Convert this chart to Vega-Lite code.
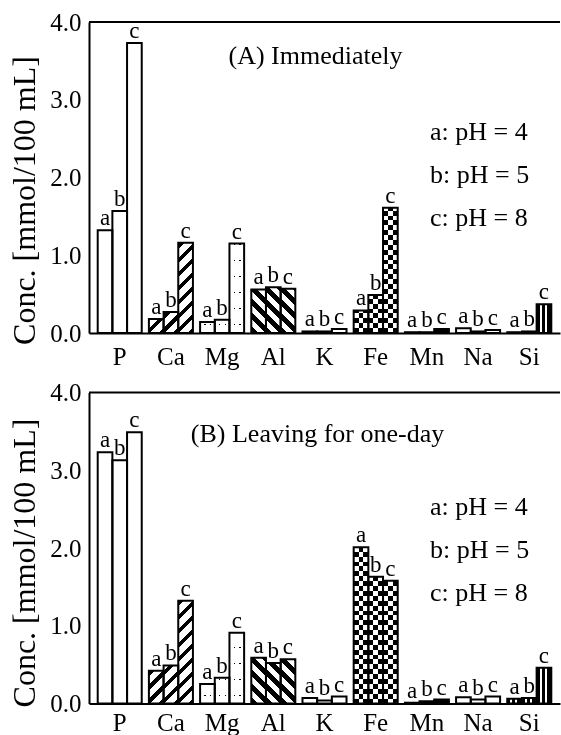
{
  "$schema": "https://vega.github.io/schema/vega-lite/v6.json",
  "background": "white",
  "padding": {"left": 8, "top": 10, "right": 0, "bottom": 0},
  "params": [
    {"name": "pxPerUnit", "value": 77.75},
    {"name": "barW", "value": 14.68},
    {"name": "hatchSpan", "value": 168},
    {"name": "checkSpan", "value": 176.2},
    {"name": "dotSpan", "value": 128},
    {"name": "hatchSlash", "value": [
      {"offset": 0, "color": "black"}, {"offset": 0.031667, "color": "black"}, {"offset": 0.031667, "color": "white"}, {"offset": 0.083333, "color": "white"},
      {"offset": 0.083333, "color": "black"}, {"offset": 0.115, "color": "black"}, {"offset": 0.115, "color": "white"}, {"offset": 0.166667, "color": "white"},
      {"offset": 0.166667, "color": "black"}, {"offset": 0.198333, "color": "black"}, {"offset": 0.198333, "color": "white"}, {"offset": 0.25, "color": "white"},
      {"offset": 0.25, "color": "black"}, {"offset": 0.281667, "color": "black"}, {"offset": 0.281667, "color": "white"}, {"offset": 0.333333, "color": "white"},
      {"offset": 0.333333, "color": "black"}, {"offset": 0.365, "color": "black"}, {"offset": 0.365, "color": "white"}, {"offset": 0.416667, "color": "white"},
      {"offset": 0.416667, "color": "black"}, {"offset": 0.448333, "color": "black"}, {"offset": 0.448333, "color": "white"}, {"offset": 0.5, "color": "white"},
      {"offset": 0.5, "color": "black"}, {"offset": 0.531667, "color": "black"}, {"offset": 0.531667, "color": "white"}, {"offset": 0.583333, "color": "white"},
      {"offset": 0.583333, "color": "black"}, {"offset": 0.615, "color": "black"}, {"offset": 0.615, "color": "white"}, {"offset": 0.666667, "color": "white"},
      {"offset": 0.666667, "color": "black"}, {"offset": 0.698333, "color": "black"}, {"offset": 0.698333, "color": "white"}, {"offset": 0.75, "color": "white"},
      {"offset": 0.75, "color": "black"}, {"offset": 0.781667, "color": "black"}, {"offset": 0.781667, "color": "white"}, {"offset": 0.833333, "color": "white"},
      {"offset": 0.833333, "color": "black"}, {"offset": 0.865, "color": "black"}, {"offset": 0.865, "color": "white"}, {"offset": 0.916667, "color": "white"},
      {"offset": 0.916667, "color": "black"}, {"offset": 0.948333, "color": "black"}, {"offset": 0.948333, "color": "white"}, {"offset": 1, "color": "white"}
    ]},
    {"name": "hatchBack", "value": [
      {"offset": 0, "color": "black"}, {"offset": 0.041667, "color": "black"}, {"offset": 0.041667, "color": "white"}, {"offset": 0.083333, "color": "white"},
      {"offset": 0.083333, "color": "black"}, {"offset": 0.125, "color": "black"}, {"offset": 0.125, "color": "white"}, {"offset": 0.166667, "color": "white"},
      {"offset": 0.166667, "color": "black"}, {"offset": 0.208333, "color": "black"}, {"offset": 0.208333, "color": "white"}, {"offset": 0.25, "color": "white"},
      {"offset": 0.25, "color": "black"}, {"offset": 0.291667, "color": "black"}, {"offset": 0.291667, "color": "white"}, {"offset": 0.333333, "color": "white"},
      {"offset": 0.333333, "color": "black"}, {"offset": 0.375, "color": "black"}, {"offset": 0.375, "color": "white"}, {"offset": 0.416667, "color": "white"},
      {"offset": 0.416667, "color": "black"}, {"offset": 0.458333, "color": "black"}, {"offset": 0.458333, "color": "white"}, {"offset": 0.5, "color": "white"},
      {"offset": 0.5, "color": "black"}, {"offset": 0.541667, "color": "black"}, {"offset": 0.541667, "color": "white"}, {"offset": 0.583333, "color": "white"},
      {"offset": 0.583333, "color": "black"}, {"offset": 0.625, "color": "black"}, {"offset": 0.625, "color": "white"}, {"offset": 0.666667, "color": "white"},
      {"offset": 0.666667, "color": "black"}, {"offset": 0.708333, "color": "black"}, {"offset": 0.708333, "color": "white"}, {"offset": 0.75, "color": "white"},
      {"offset": 0.75, "color": "black"}, {"offset": 0.791667, "color": "black"}, {"offset": 0.791667, "color": "white"}, {"offset": 0.833333, "color": "white"},
      {"offset": 0.833333, "color": "black"}, {"offset": 0.875, "color": "black"}, {"offset": 0.875, "color": "white"}, {"offset": 0.916667, "color": "white"},
      {"offset": 0.916667, "color": "black"}, {"offset": 0.958333, "color": "black"}, {"offset": 0.958333, "color": "white"}, {"offset": 1, "color": "white"}
    ]},
    {"name": "checkRows", "value": [
      {"offset": 0, "color": "black"}, {"offset": 0.02778, "color": "black"}, {"offset": 0.02778, "color": "white"}, {"offset": 0.05556, "color": "white"},
      {"offset": 0.05556, "color": "black"}, {"offset": 0.08333, "color": "black"}, {"offset": 0.08333, "color": "white"}, {"offset": 0.11111, "color": "white"},
      {"offset": 0.11111, "color": "black"}, {"offset": 0.13889, "color": "black"}, {"offset": 0.13889, "color": "white"}, {"offset": 0.16667, "color": "white"},
      {"offset": 0.16667, "color": "black"}, {"offset": 0.19444, "color": "black"}, {"offset": 0.19444, "color": "white"}, {"offset": 0.22222, "color": "white"},
      {"offset": 0.22222, "color": "black"}, {"offset": 0.25, "color": "black"}, {"offset": 0.25, "color": "white"}, {"offset": 0.27778, "color": "white"},
      {"offset": 0.27778, "color": "black"}, {"offset": 0.30556, "color": "black"}, {"offset": 0.30556, "color": "white"}, {"offset": 0.33333, "color": "white"},
      {"offset": 0.33333, "color": "black"}, {"offset": 0.36111, "color": "black"}, {"offset": 0.36111, "color": "white"}, {"offset": 0.38889, "color": "white"},
      {"offset": 0.38889, "color": "black"}, {"offset": 0.41667, "color": "black"}, {"offset": 0.41667, "color": "white"}, {"offset": 0.44444, "color": "white"},
      {"offset": 0.44444, "color": "black"}, {"offset": 0.47222, "color": "black"}, {"offset": 0.47222, "color": "white"}, {"offset": 0.5, "color": "white"},
      {"offset": 0.5, "color": "black"}, {"offset": 0.52778, "color": "black"}, {"offset": 0.52778, "color": "white"}, {"offset": 0.55556, "color": "white"},
      {"offset": 0.55556, "color": "black"}, {"offset": 0.58333, "color": "black"}, {"offset": 0.58333, "color": "white"}, {"offset": 0.61111, "color": "white"},
      {"offset": 0.61111, "color": "black"}, {"offset": 0.63889, "color": "black"}, {"offset": 0.63889, "color": "white"}, {"offset": 0.66667, "color": "white"},
      {"offset": 0.66667, "color": "black"}, {"offset": 0.69444, "color": "black"}, {"offset": 0.69444, "color": "white"}, {"offset": 0.72222, "color": "white"},
      {"offset": 0.72222, "color": "black"}, {"offset": 0.75, "color": "black"}, {"offset": 0.75, "color": "white"}, {"offset": 0.77778, "color": "white"},
      {"offset": 0.77778, "color": "black"}, {"offset": 0.80556, "color": "black"}, {"offset": 0.80556, "color": "white"}, {"offset": 0.83333, "color": "white"},
      {"offset": 0.83333, "color": "black"}, {"offset": 0.86111, "color": "black"}, {"offset": 0.86111, "color": "white"}, {"offset": 0.88889, "color": "white"},
      {"offset": 0.88889, "color": "black"}, {"offset": 0.91667, "color": "black"}, {"offset": 0.91667, "color": "white"}, {"offset": 0.94444, "color": "white"},
      {"offset": 0.94444, "color": "black"}, {"offset": 0.97222, "color": "black"}, {"offset": 0.97222, "color": "white"}, {"offset": 1, "color": "white"}
    ]},
    {"name": "dotRows", "value": [
      {"offset": 0, "color": "white"}, {"offset": 0.05875, "color": "white"}, {"offset": 0.05875, "color": "black"}, {"offset": 0.06875, "color": "black"}, {"offset": 0.06875, "color": "white"},
      {"offset": 0.18375, "color": "white"}, {"offset": 0.18375, "color": "black"}, {"offset": 0.19375, "color": "black"}, {"offset": 0.19375, "color": "white"},
      {"offset": 0.30875, "color": "white"}, {"offset": 0.30875, "color": "black"}, {"offset": 0.31875, "color": "black"}, {"offset": 0.31875, "color": "white"},
      {"offset": 0.43375, "color": "white"}, {"offset": 0.43375, "color": "black"}, {"offset": 0.44375, "color": "black"}, {"offset": 0.44375, "color": "white"},
      {"offset": 0.55875, "color": "white"}, {"offset": 0.55875, "color": "black"}, {"offset": 0.56875, "color": "black"}, {"offset": 0.56875, "color": "white"},
      {"offset": 0.68375, "color": "white"}, {"offset": 0.68375, "color": "black"}, {"offset": 0.69375, "color": "black"}, {"offset": 0.69375, "color": "white"},
      {"offset": 0.80875, "color": "white"}, {"offset": 0.80875, "color": "black"}, {"offset": 0.81875, "color": "black"}, {"offset": 0.81875, "color": "white"},
      {"offset": 0.93375, "color": "white"}, {"offset": 0.93375, "color": "black"}, {"offset": 0.94375, "color": "black"}, {"offset": 0.94375, "color": "white"}, {"offset": 1, "color": "white"}
    ]}
  ],
  "data": {"values": [
    {"panel": "A", "element": "P", "tag": "a", "pH": 4, "conc": 1.32},
    {"panel": "A", "element": "P", "tag": "b", "pH": 5, "conc": 1.57},
    {"panel": "A", "element": "P", "tag": "c", "pH": 8, "conc": 3.73},
    {"panel": "A", "element": "Ca", "tag": "a", "pH": 4, "conc": 0.18},
    {"panel": "A", "element": "Ca", "tag": "b", "pH": 5, "conc": 0.27},
    {"panel": "A", "element": "Ca", "tag": "c", "pH": 8, "conc": 1.16},
    {"panel": "A", "element": "Mg", "tag": "a", "pH": 4, "conc": 0.14},
    {"panel": "A", "element": "Mg", "tag": "b", "pH": 5, "conc": 0.17},
    {"panel": "A", "element": "Mg", "tag": "c", "pH": 8, "conc": 1.15},
    {"panel": "A", "element": "Al", "tag": "a", "pH": 4, "conc": 0.56},
    {"panel": "A", "element": "Al", "tag": "b", "pH": 5, "conc": 0.59},
    {"panel": "A", "element": "Al", "tag": "c", "pH": 8, "conc": 0.57},
    {"panel": "A", "element": "K", "tag": "a", "pH": 4, "conc": 0.02},
    {"panel": "A", "element": "K", "tag": "b", "pH": 5, "conc": 0.02},
    {"panel": "A", "element": "K", "tag": "c", "pH": 8, "conc": 0.05},
    {"panel": "A", "element": "Fe", "tag": "a", "pH": 4, "conc": 0.29},
    {"panel": "A", "element": "Fe", "tag": "b", "pH": 5, "conc": 0.49},
    {"panel": "A", "element": "Fe", "tag": "c", "pH": 8, "conc": 1.61},
    {"panel": "A", "element": "Mn", "tag": "a", "pH": 4, "conc": 0.01},
    {"panel": "A", "element": "Mn", "tag": "b", "pH": 5, "conc": 0.01},
    {"panel": "A", "element": "Mn", "tag": "c", "pH": 8, "conc": 0.05},
    {"panel": "A", "element": "Na", "tag": "a", "pH": 4, "conc": 0.06},
    {"panel": "A", "element": "Na", "tag": "b", "pH": 5, "conc": 0.02},
    {"panel": "A", "element": "Na", "tag": "c", "pH": 8, "conc": 0.04},
    {"panel": "A", "element": "Si", "tag": "a", "pH": 4, "conc": 0.01},
    {"panel": "A", "element": "Si", "tag": "b", "pH": 5, "conc": 0.02},
    {"panel": "A", "element": "Si", "tag": "c", "pH": 8, "conc": 0.37},
    {"panel": "B", "element": "P", "tag": "a", "pH": 4, "conc": 3.23},
    {"panel": "B", "element": "P", "tag": "b", "pH": 5, "conc": 3.13},
    {"panel": "B", "element": "P", "tag": "c", "pH": 8, "conc": 3.49},
    {"panel": "B", "element": "Ca", "tag": "a", "pH": 4, "conc": 0.42},
    {"panel": "B", "element": "Ca", "tag": "b", "pH": 5, "conc": 0.49},
    {"panel": "B", "element": "Ca", "tag": "c", "pH": 8, "conc": 1.32},
    {"panel": "B", "element": "Mg", "tag": "a", "pH": 4, "conc": 0.25},
    {"panel": "B", "element": "Mg", "tag": "b", "pH": 5, "conc": 0.33},
    {"panel": "B", "element": "Mg", "tag": "c", "pH": 8, "conc": 0.91},
    {"panel": "B", "element": "Al", "tag": "a", "pH": 4, "conc": 0.59},
    {"panel": "B", "element": "Al", "tag": "b", "pH": 5, "conc": 0.52},
    {"panel": "B", "element": "Al", "tag": "c", "pH": 8, "conc": 0.57},
    {"panel": "B", "element": "K", "tag": "a", "pH": 4, "conc": 0.07},
    {"panel": "B", "element": "K", "tag": "b", "pH": 5, "conc": 0.04},
    {"panel": "B", "element": "K", "tag": "c", "pH": 8, "conc": 0.09},
    {"panel": "B", "element": "Fe", "tag": "a", "pH": 4, "conc": 2.01},
    {"panel": "B", "element": "Fe", "tag": "b", "pH": 5, "conc": 1.63},
    {"panel": "B", "element": "Fe", "tag": "c", "pH": 8, "conc": 1.58},
    {"panel": "B", "element": "Mn", "tag": "a", "pH": 4, "conc": 0.01},
    {"panel": "B", "element": "Mn", "tag": "b", "pH": 5, "conc": 0.03},
    {"panel": "B", "element": "Mn", "tag": "c", "pH": 8, "conc": 0.05},
    {"panel": "B", "element": "Na", "tag": "a", "pH": 4, "conc": 0.08},
    {"panel": "B", "element": "Na", "tag": "b", "pH": 5, "conc": 0.05},
    {"panel": "B", "element": "Na", "tag": "c", "pH": 8, "conc": 0.09},
    {"panel": "B", "element": "Si", "tag": "a", "pH": 4, "conc": 0.06},
    {"panel": "B", "element": "Si", "tag": "b", "pH": 5, "conc": 0.07},
    {"panel": "B", "element": "Si", "tag": "c", "pH": 8, "conc": 0.46}
  ]},
  "spacing": 11.5,
  "resolve": {"scale": {"opacity": "independent"}, "legend": {"opacity": "independent"}},
  "vconcat": [
    {
      "width": 471,
      "height": 311,
      "title": {"text": "(A) Immediately", "offset": -72, "dx": -9, "baseline": "middle"},
      "layer": [
        {
          "data": {"values": [{}]},
          "mark": {"type": "rule", "color": "black", "strokeWidth": 2},
          "encoding": {"y": {"datum": 4, "type": "quantitative", "title": "Conc. [mmol/100 mL]"}}
        },
        {
          "transform": [{"filter": "datum.panel === 'A'"}],
          "encoding": {
            "x": {"field": "element", "type": "nominal", "sort": ["P", "Ca", "Mg", "Al", "K", "Fe", "Mn", "Na", "Si"], "scale": {"paddingInner": 0.14, "paddingOuter": 0.17}, "axis": {"title": null}},
            "xOffset": {"field": "tag", "type": "nominal", "scale": {"paddingInner": 0, "paddingOuter": 0}},
            "y": {"field": "conc", "type": "quantitative", "scale": {"domain": [0, 4]}, "axis": {"title": "Conc. [mmol/100 mL]", "values": [0, 1, 2, 3, 4], "format": ".1f", "titleX": -65, "titleY": 178}}
          },
          "layer": [
            {"transform": [{"filter": {"field": "element", "oneOf": ["P", "K", "Na"]}}], "mark": {"type": "bar", "fill": "white"}},
            {"transform": [{"filter": "datum.element === 'Mg'"}], "mark": {"type": "bar", "fill": {"gradient": "linear", "x1": 0, "y1": 0, "x2": 1, "y2": 0, "stops": [{"offset": 0, "color": "white"}, {"offset": 0.3, "color": "white"}, {"offset": 0.3, "color": "black"}, {"offset": 0.38, "color": "black"}, {"offset": 0.38, "color": "white"}, {"offset": 0.68, "color": "white"}, {"offset": 0.68, "color": "black"}, {"offset": 0.76, "color": "black"}, {"offset": 0.76, "color": "white"}, {"offset": 1, "color": "white"}]}}},
            {"transform": [{"filter": "datum.element === 'Mg'"}], "mark": {"type": "bar", "blend": "lighten", "fill": {"expr": "{gradient: 'linear', x1: 0, y1: 1, x2: 0, y2: 1 - dotSpan / (datum.conc * pxPerUnit), stops: dotRows}"}}},
            {"transform": [{"filter": "datum.element === 'Ca'"}], "mark": {"type": "bar", "fill": {"expr": "{gradient: 'linear', x1: 1, y1: 1, x2: 1 - hatchSpan * barW / (barW * barW + pow(datum.conc * pxPerUnit, 2)), y2: 1 - hatchSpan * datum.conc * pxPerUnit / (barW * barW + pow(datum.conc * pxPerUnit, 2)), stops: hatchSlash}"}}},
            {"transform": [{"filter": "datum.element === 'Al'"}], "mark": {"type": "bar", "fill": {"expr": "{gradient: 'linear', x1: 0, y1: 1, x2: hatchSpan * barW / (barW * barW + pow(datum.conc * pxPerUnit, 2)), y2: 1 - hatchSpan * datum.conc * pxPerUnit / (barW * barW + pow(datum.conc * pxPerUnit, 2)), stops: hatchBack}"}}},
            {"transform": [{"filter": "datum.element === 'Fe'"}], "mark": {"type": "bar", "fill": {"gradient": "linear", "x1": 0, "y1": 0, "x2": 1, "y2": 0, "stops": [{"offset": 0, "color": "black"}, {"offset": 0.3333, "color": "black"}, {"offset": 0.3333, "color": "white"}, {"offset": 0.6667, "color": "white"}, {"offset": 0.6667, "color": "black"}, {"offset": 1, "color": "black"}]}}},
            {"transform": [{"filter": "datum.element === 'Fe'"}], "mark": {"type": "bar", "blend": "difference", "fill": {"expr": "{gradient: 'linear', x1: 0, y1: 1, x2: 0, y2: 1 - checkSpan / (datum.conc * pxPerUnit), stops: checkRows}"}}},
            {"transform": [{"filter": "datum.element === 'Mn'"}], "mark": {"type": "bar", "fill": "black"}},
            {"transform": [{"filter": "datum.element === 'Si'"}], "mark": {"type": "bar", "fill": {"gradient": "linear", "x1": 0, "y1": 0, "x2": 1, "y2": 0, "stops": [{"offset": 0, "color": "black"}, {"offset": 0.2, "color": "black"}, {"offset": 0.2, "color": "white"}, {"offset": 0.35, "color": "white"}, {"offset": 0.35, "color": "black"}, {"offset": 0.55, "color": "black"}, {"offset": 0.55, "color": "white"}, {"offset": 0.69, "color": "white"}, {"offset": 0.69, "color": "black"}, {"offset": 1, "color": "black"}]}}},
            {"mark": {"type": "bar", "fill": "white", "fillOpacity": 0, "stroke": "black", "strokeWidth": 2}},
            {
              "mark": {"type": "text", "baseline": "alphabetic", "dy": -5, "fontSize": 23},
              "encoding": {
                "text": {"field": "tag"},
                "opacity": {"field": "pH", "type": "ordinal", "scale": {"range": [1, 1, 1]}, "legend": {"orient": "none", "legendX": 315, "legendY": 97, "title": null, "symbolSize": 0, "symbolOpacity": 0, "symbolStrokeWidth": 0, "labelFontSize": 26, "labelOffset": 0, "rowPadding": 17, "labelExpr": "{'4': 'a', '5': 'b', '8': 'c'}[datum.label] + ': pH = ' + datum.label"}}
              }
            }
          ]
        }
      ]
    },
    {
      "width": 471,
      "height": 311,
      "title": {"text": "(B) Leaving for one-day", "offset": -79, "dx": -7, "baseline": "middle"},
      "layer": [
        {
          "data": {"values": [{}]},
          "mark": {"type": "rule", "color": "black", "strokeWidth": 2},
          "encoding": {"y": {"datum": 4, "type": "quantitative", "title": "Conc. [mmol/100 mL]"}}
        },
        {
          "transform": [{"filter": "datum.panel === 'B'"}],
          "encoding": {
            "x": {"field": "element", "type": "nominal", "sort": ["P", "Ca", "Mg", "Al", "K", "Fe", "Mn", "Na", "Si"], "scale": {"paddingInner": 0.14, "paddingOuter": 0.17}, "axis": {"title": null, "labelPadding": 7}},
            "xOffset": {"field": "tag", "type": "nominal", "scale": {"paddingInner": 0, "paddingOuter": 0}},
            "y": {"field": "conc", "type": "quantitative", "scale": {"domain": [0, 4]}, "axis": {"title": "Conc. [mmol/100 mL]", "values": [0, 1, 2, 3, 4], "format": ".1f", "titleX": -65, "titleY": 170}}
          },
          "layer": [
            {"transform": [{"filter": {"field": "element", "oneOf": ["P", "K", "Na"]}}], "mark": {"type": "bar", "fill": "white"}},
            {"transform": [{"filter": "datum.element === 'Mg'"}], "mark": {"type": "bar", "fill": {"gradient": "linear", "x1": 0, "y1": 0, "x2": 1, "y2": 0, "stops": [{"offset": 0, "color": "white"}, {"offset": 0.3, "color": "white"}, {"offset": 0.3, "color": "black"}, {"offset": 0.38, "color": "black"}, {"offset": 0.38, "color": "white"}, {"offset": 0.68, "color": "white"}, {"offset": 0.68, "color": "black"}, {"offset": 0.76, "color": "black"}, {"offset": 0.76, "color": "white"}, {"offset": 1, "color": "white"}]}}},
            {"transform": [{"filter": "datum.element === 'Mg'"}], "mark": {"type": "bar", "blend": "lighten", "fill": {"expr": "{gradient: 'linear', x1: 0, y1: 1, x2: 0, y2: 1 - dotSpan / (datum.conc * pxPerUnit), stops: dotRows}"}}},
            {"transform": [{"filter": "datum.element === 'Ca'"}], "mark": {"type": "bar", "fill": {"expr": "{gradient: 'linear', x1: 1, y1: 1, x2: 1 - hatchSpan * barW / (barW * barW + pow(datum.conc * pxPerUnit, 2)), y2: 1 - hatchSpan * datum.conc * pxPerUnit / (barW * barW + pow(datum.conc * pxPerUnit, 2)), stops: hatchSlash}"}}},
            {"transform": [{"filter": "datum.element === 'Al'"}], "mark": {"type": "bar", "fill": {"expr": "{gradient: 'linear', x1: 0, y1: 1, x2: hatchSpan * barW / (barW * barW + pow(datum.conc * pxPerUnit, 2)), y2: 1 - hatchSpan * datum.conc * pxPerUnit / (barW * barW + pow(datum.conc * pxPerUnit, 2)), stops: hatchBack}"}}},
            {"transform": [{"filter": "datum.element === 'Fe'"}], "mark": {"type": "bar", "fill": {"gradient": "linear", "x1": 0, "y1": 0, "x2": 1, "y2": 0, "stops": [{"offset": 0, "color": "black"}, {"offset": 0.3333, "color": "black"}, {"offset": 0.3333, "color": "white"}, {"offset": 0.6667, "color": "white"}, {"offset": 0.6667, "color": "black"}, {"offset": 1, "color": "black"}]}}},
            {"transform": [{"filter": "datum.element === 'Fe'"}], "mark": {"type": "bar", "blend": "difference", "fill": {"expr": "{gradient: 'linear', x1: 0, y1: 1, x2: 0, y2: 1 - checkSpan / (datum.conc * pxPerUnit), stops: checkRows}"}}},
            {"transform": [{"filter": "datum.element === 'Mn'"}], "mark": {"type": "bar", "fill": "black"}},
            {"transform": [{"filter": "datum.element === 'Si'"}], "mark": {"type": "bar", "fill": {"gradient": "linear", "x1": 0, "y1": 0, "x2": 1, "y2": 0, "stops": [{"offset": 0, "color": "black"}, {"offset": 0.2, "color": "black"}, {"offset": 0.2, "color": "white"}, {"offset": 0.35, "color": "white"}, {"offset": 0.35, "color": "black"}, {"offset": 0.55, "color": "black"}, {"offset": 0.55, "color": "white"}, {"offset": 0.69, "color": "white"}, {"offset": 0.69, "color": "black"}, {"offset": 1, "color": "black"}]}}},
            {"mark": {"type": "bar", "fill": "white", "fillOpacity": 0, "stroke": "black", "strokeWidth": 2}},
            {
              "mark": {"type": "text", "baseline": "alphabetic", "dy": -5, "fontSize": 23},
              "encoding": {
                "text": {"field": "tag"},
                "opacity": {"field": "pH", "type": "ordinal", "scale": {"range": [1, 1, 1]}, "legend": {"orient": "none", "legendX": 315, "legendY": 101, "title": null, "symbolSize": 0, "symbolOpacity": 0, "symbolStrokeWidth": 0, "labelFontSize": 26, "labelOffset": 0, "rowPadding": 17, "labelExpr": "{'4': 'a', '5': 'b', '8': 'c'}[datum.label] + ': pH = ' + datum.label"}}
              }
            }
          ]
        }
      ]
    }
  ],
  "config": {
    "font": "Liberation Serif",
    "view": {"stroke": null},
    "axis": {"domainColor": "black", "domainWidth": 2, "labelColor": "black", "labelFontSize": 25, "titleColor": "black", "titleFontWeight": "normal", "grid": false, "ticks": false},
    "axisY": {"labelPadding": 8, "titleFontSize": 32, "titleAngle": -90, "titleAlign": "center", "titleBaseline": "middle"},
    "axisX": {"labelPadding": 11, "labelAngle": 0},
    "title": {"fontSize": 26, "fontWeight": "normal", "color": "black", "font": "Liberation Serif"},
    "legend": {"labelColor": "black", "labelFont": "Liberation Serif"},
    "text": {"color": "black", "font": "Liberation Serif"}
  }
}
